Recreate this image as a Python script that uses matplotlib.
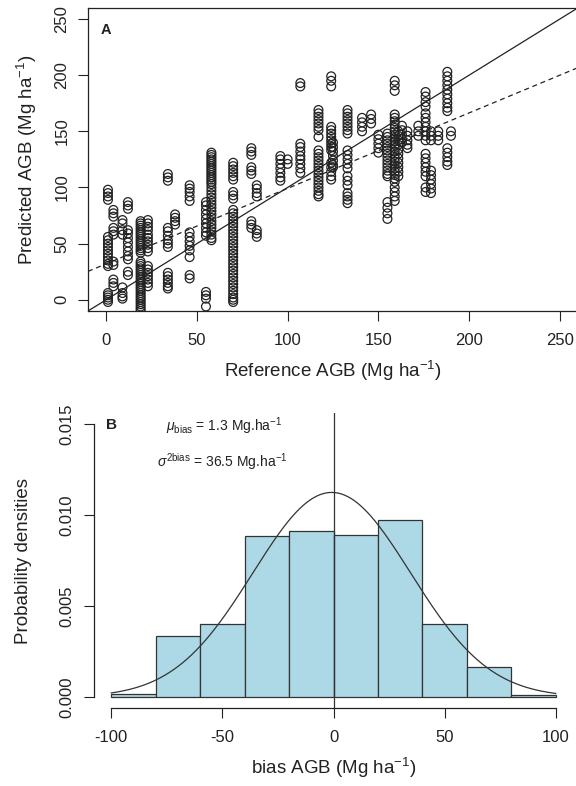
import numpy as np
import matplotlib

matplotlib.use("Agg")
import matplotlib.pyplot as plt

plt.rcParams["font.family"] = ["Liberation Sans", "DejaVu Sans"]
plt.rcParams["mathtext.fontset"] = "custom"
plt.rcParams["mathtext.rm"] = "Liberation Sans"
plt.rcParams["mathtext.it"] = "Liberation Sans:italic"
plt.rcParams["mathtext.bf"] = "Liberation Sans:bold"
plt.rcParams["axes.unicode_minus"] = False

# Panel A: reference AGB (plot columns) vs predicted AGB
ref_agb = [1, 4, 9, 12, 19, 23, 34, 38, 46, 55, 58, 70, 80, 83, 96, 100,
           107, 117, 124, 125, 133, 141, 146, 150, 155, 159, 161, 163, 166,
           172, 176, 179, 183, 188, 190]
pred_agb = [
    [98, 95, 92, 89, 56, 53, 50, 47, 44, 41, 38, 35, 32, 30, 6, 4, 2, 0, -2],
    [80, 77, 74, 64, 61, 58, 34, 31, 18, 15, 12],
    [71, 68, 62, 58, 11, 6, 3, 1],
    [87, 84, 81, 62, 59, 55, 51, 47, 43, 39, 36, 25, 22],
    [70, 68, 66, 64, 62, 60, 58, 56, 54, 52, 50, 48, 46, 44, 42, 34, 32, 30,
     28, 26, 24, 22, 20, 18, 16, 14, 12, 10, 8, 6, 4, 2, 0, -2, -4, -6, -8, -10],
    [71, 68, 65, 62, 58, 55, 52, 49, 46, 43, 30, 27, 24, 21, 18, 15, 12],
    [112, 109, 106, 64, 61, 57, 53, 50, 47, 24, 21, 18, 15, 12, 10],
    [76, 73, 70, 67],
    [102, 99, 96, 92, 88, 60, 56, 52, 48, 44, 38, 22, 19],
    [87, 84, 80, 76, 72, 68, 64, 60, 57, 7, 4, 1, -6],
    [131, 129, 127, 125, 123, 121, 119, 117, 115, 113, 111, 109, 107, 105,
     103, 100, 97, 94, 91, 88, 85, 82, 79, 76, 73, 70, 67, 64, 61, 58, 55, 53],
    [122, 119, 116, 113, 110, 107, 96, 93, 90, 80, 77, 74, 71, 68, 65, 62, 59,
     56, 53, 50, 47, 44, 41, 38, 35, 32, 29, 26, 23, 20, 17, 14, 11, 8, 5, 2,
     0, -2],
    [135, 132, 129, 118, 115, 112, 70, 67, 64],
    [102, 99, 95, 92, 62, 59, 56],
    [128, 125, 121, 117, 113, 109, 106],
    [125, 121],
    [193, 190, 139, 136, 132, 128, 125, 121, 117, 113],
    [169, 166, 163, 160, 157, 154, 151, 145, 133, 130, 127, 124, 121, 118, 115,
     112, 109, 106, 103, 100, 97, 94, 92],
    [199, 195, 190, 154, 151, 148, 145, 142, 139, 136, 133, 122, 118, 114,
     110, 107],
    [140, 136, 132, 128, 124, 120, 118],
    [169, 166, 163, 160, 157, 154, 151, 148, 133, 129, 125, 121, 117, 110, 106,
     102, 95, 92, 89, 86],
    [162, 158, 154, 150],
    [165, 161, 157],
    [147, 143, 139, 135, 131],
    [148, 145, 142, 139, 136, 133, 130, 127, 124, 121, 118, 115, 112, 110, 87,
     82, 77, 72],
    [195, 191, 186, 165, 162, 159, 156, 153, 150, 147, 144, 141, 138, 135, 132,
     129, 126, 123, 120, 117, 114, 111, 108, 105, 100, 96, 92, 88],
    [150, 146, 142, 138, 134, 130, 126, 122, 118, 114, 110],
    [155, 151, 147, 143, 140],
    [150, 146, 142, 138, 135],
    [155, 150, 146],
    [185, 181, 176, 172, 166, 162, 158, 154, 150, 146, 142, 130, 126, 122, 118,
     114, 110, 100, 96],
    [150, 146, 142, 115, 111, 107, 103, 99, 95],
    [150, 146, 142],
    [203, 199, 195, 191, 187, 183, 179, 175, 171, 168, 135, 131, 127, 123, 120],
    [150, 146],
]
fit_intercept = 32.0
fit_slope = 0.672
axis_ticks_a = [0, 50, 100, 150, 200, 250]

# Panel B: histogram of bias
bin_edges = [-100, -80, -60, -40, -20, 0, 20, 40, 60, 80, 100]
bin_density = [0.00015, 0.00333, 0.00401, 0.00886, 0.00914,
               0.00888, 0.00973, 0.00401, 0.00165, 0.00013]
bias_mu = -0.8
bias_sd = 35.5
x_ticks_b = [-100, -50, 0, 50, 100]
y_ticks_b = [0.000, 0.005, 0.010, 0.015]

W, H = 576, 786
fig = plt.figure(figsize=(W / 100, H / 100), dpi=100)


def rect(left, top, right, bottom):
    return [left / W, 1 - bottom / H, (right - left) / W, (bottom - top) / H]


ink = "#222222"
tick_kw = dict(length=7.5, width=0.8, color=ink, labelsize=12, labelcolor=ink)

# ---- panel A
ax = fig.add_axes(rect(88, 7.8, 578, 311))
xs = np.concatenate([[x] * len(ys) for x, ys in zip(ref_agb, pred_agb)])
ys = np.concatenate(pred_agb)
ax.scatter(xs, ys, s=40, facecolors="none", edgecolors=ink, linewidths=0.9,
           zorder=3)
ax.axline((0, 0), slope=1, color=ink, lw=0.9)
ax.axline((0, fit_intercept), slope=fit_slope, color=ink, lw=0.9,
          ls=(0, (4, 3)))
ax.set_xlim(-10, 260)
ax.set_ylim(-10, 260)
ax.set_xticks(axis_ticks_a)
ax.set_yticks(axis_ticks_a)
ax.tick_params(axis="x", pad=8, **tick_kw)
ax.tick_params(axis="y", pad=6, labelrotation=90, **tick_kw)
for lbl in ax.get_yticklabels():
    lbl.set_va("center")
for sp in ax.spines.values():
    sp.set_color(ink)
    sp.set_linewidth(0.9)
ax.set_xlabel("Reference AGB (Mg ha$^{-1}$)", fontsize=13.5, color=ink,
              va="center")
ax.xaxis.set_label_coords(0.5, (311 - 371) / 303.2)
ax.set_ylabel("Predicted AGB (Mg ha$^{-1}$)", fontsize=13.5, color=ink,
              va="center")
ax.yaxis.set_label_coords((27 - 88) / 490, 0.5)
ax.text(0, 240, "A", fontsize=10.5, fontweight="bold", ha="center",
        va="center", color=ink)

# ---- panel B
bx = fig.add_axes(rect(93.5, 413, 573.5, 708))
widths = np.diff(bin_edges)
bx.bar(bin_edges[:-1], bin_density, width=widths, align="edge",
       color="#ADD8E6", edgecolor="#333333", linewidth=0.9)
xc = np.linspace(-100, 100, 400)
yc = np.exp(-0.5 * ((xc - bias_mu) / bias_sd) ** 2) / (bias_sd * np.sqrt(2 * np.pi))
bx.plot(xc, yc, color="#333333", lw=0.9)
bx.axvline(0, color="#333333", lw=0.9)
bx.set_xlim(-108, 108)
bx.set_ylim(-0.0006, 0.0156)
bx.set_xticks(x_ticks_b)
bx.set_yticks(y_ticks_b)
bx.set_yticklabels([f"{v:.3f}" for v in y_ticks_b])
bx.tick_params(axis="x", pad=8, **tick_kw)
bx.tick_params(axis="y", pad=6, labelrotation=90, **tick_kw)
for lbl in bx.get_yticklabels():
    lbl.set_va("center")
for side in ["top", "right"]:
    bx.spines[side].set_visible(False)
bx.spines["left"].set_bounds(0, 0.015)
bx.spines["bottom"].set_bounds(-100, 100)
for side in ["left", "bottom"]:
    bx.spines[side].set_color(ink)
    bx.spines[side].set_linewidth(0.9)
bx.set_xlabel("bias AGB (Mg ha$^{-1}$)", fontsize=13.5, color=ink, va="center")
bx.xaxis.set_label_coords(0.5, (708 - 768) / 295)
bx.set_ylabel("Probability densities", fontsize=13.5, color=ink, va="center")
bx.yaxis.set_label_coords((24 - 93.5) / 480, 0.5)
bx.text(-100, 0.01495, "B", fontsize=11, fontweight="bold", ha="center",
        va="center", color=ink)
bx.text(-49, 0.01485, r"$\mu_{\rm bias}$ = 1.3 Mg.ha$^{-1}$", fontsize=10,
        ha="center", va="center", color=ink)
bx.text(-50, 0.01293, r"$\sigma^{2\rm bias}$ = 36.5 Mg.ha$^{-1}$", fontsize=10,
        ha="center", va="center", color=ink)

fig.savefig("out.png", dpi=100)
